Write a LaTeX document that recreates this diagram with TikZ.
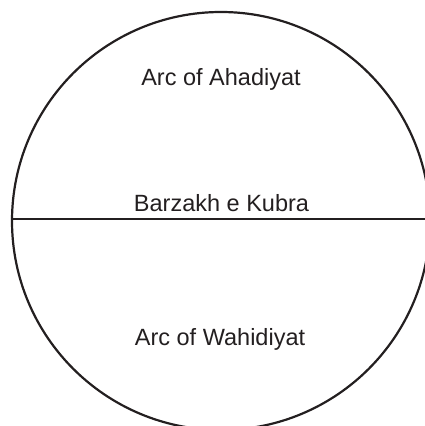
\documentclass[tikz,border=0pt]{standalone}
\usepackage{fontspec}
\setmainfont{Liberation Sans}
\usetikzlibrary{positioning}
\definecolor{ink}{HTML}{231F20}

\begin{document}
\begin{tikzpicture}[
  x=1pt, y=1pt,
  orb/.style={draw=ink, circle, line width=2.2pt, inner sep=0pt, minimum size=418pt},
  split/.style={draw=ink, line width=2.2pt},
  tag/.style={anchor=base, inner sep=0pt, text=ink, font=\fontsize{23.5}{28}\selectfont}
]
\clip (0,0) rectangle (425,426);
\node[orb] (orb) at (221,205) {};
\coordinate (rim) at (425,207);
\draw[split] (orb.west |- rim) -- (rim);
\node[tag] (ahad) at (221,340) {Arc of Ahadiyat};
\node[tag] (barzakh) at (221.5,214) {Barzakh e Kubra};
\node[tag] (wahid) at (220,80) {Arc of Wahidiyat};
\end{tikzpicture}
\end{document}
